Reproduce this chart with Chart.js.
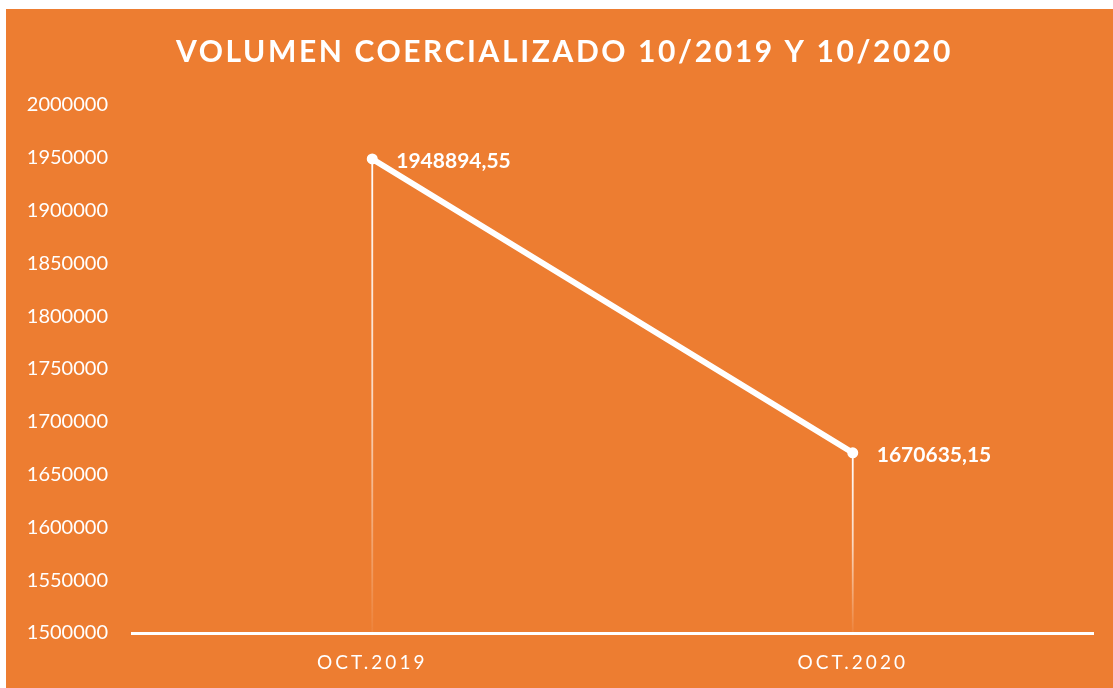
<!DOCTYPE html>
<html>
<head>
<meta charset="utf-8">
<script src="https://cdn.jsdelivr.net/npm/chart.js@4"></script>
<style>
  body { margin: 0; background: #fff; }
  #marco { position: absolute; left: 6px; top: 9px; width: 1107px; height: 679px; background: #ED7D31; }
</style>
</head>
<body>
<div id="marco"><canvas id="grafico"></canvas></div>
<script>
const titulo = 'VOLUMEN COERCIALIZADO 10/2019 Y 10/2020';
const meses = ['OCT.2019', 'OCT.2020'];
const volumen = [1948894.55, 1670635.15];
const ticksY = [1500000, 1550000, 1600000, 1650000, 1700000, 1750000,
  1800000, 1850000, 1900000, 1950000, 2000000];

const fuente = 'Lato, "Open Sans", sans-serif';

// Chart.js no tiene letter-spacing, se envuelve el metodo de dibujo
function conEspaciado(obj, metodo, espacio, dx) {
  if (!obj || obj['_esp_' + metodo]) return;
  const original = obj[metodo];
  obj[metodo] = function (...args) {
    const ctx = this.ctx;
    ctx.save();
    ctx.letterSpacing = espacio;
    ctx.translate(dx || 0, 0);
    original.apply(this, args);
    ctx.restore();
  };
  obj['_esp_' + metodo] = true;
}

const espaciado = {
  id: 'espaciado',
  beforeDraw(chart) {
    // el titulo se centra en todo el recuadro, no solo en el lienzo sin el margen derecho
    conEspaciado(chart.titleBlock, 'draw', '2.6px', 15);
    conEspaciado(chart.scales.x, 'drawLabels', '3px', 0);
  }
};

const lineasCaida = {
  id: 'lineasCaida',
  beforeDatasetsDraw(chart) {
    const ctx = chart.ctx;
    const fondo = chart.chartArea.bottom;
    chart.getDatasetMeta(0).data.forEach(p => {
      const g = ctx.createLinearGradient(0, p.y, 0, fondo);
      g.addColorStop(0, 'rgba(255,255,255,1)');
      g.addColorStop(0.5, 'rgba(255,255,255,0.7)');
      g.addColorStop(1, 'rgba(255,255,255,0.05)');
      ctx.save();
      ctx.strokeStyle = g;
      ctx.lineWidth = 1.8;
      ctx.beginPath();
      ctx.moveTo(p.x, p.y);
      ctx.lineTo(p.x, fondo);
      ctx.stroke();
      ctx.restore();
    });
  }
};

const etiquetasDatos = {
  id: 'etiquetasDatos',
  afterDatasetsDraw(chart) {
    const ctx = chart.ctx;
    ctx.save();
    ctx.fillStyle = '#fff';
    ctx.font = 'bold 21px ' + fuente;
    ctx.textAlign = 'left';
    ctx.textBaseline = 'middle';
    chart.getDatasetMeta(0).data.forEach((p, i) => {
      const texto = volumen[i].toFixed(2).replace('.', ',');
      ctx.fillText(texto, p.x + 24, p.y + 2);
    });
    ctx.restore();
  }
};

const ctx = document.getElementById('grafico').getContext('2d');
new Chart(ctx, {
  type: 'line',
  data: {
    labels: meses,
    datasets: [{
      data: volumen,
      borderColor: '#fff',
      borderWidth: 6,
      borderCapStyle: 'round',
      backgroundColor: '#fff',
      pointRadius: 2.5,
      pointHoverRadius: 2.5,
      fill: false,
      tension: 0
    }]
  },
  options: {
    responsive: true,
    maintainAspectRatio: false,
    animation: false,
    layout: { padding: { left: 0, right: 20, top: 0, bottom: 0 } },
    plugins: {
      legend: { display: false },
      tooltip: { enabled: false },
      title: {
        display: true,
        text: titulo,
        color: '#fff',
        font: { family: fuente, size: 30, weight: 'bold' },
        padding: { top: 25, bottom: 35 }
      }
    },
    scales: {
      x: {
        offset: true,
        grid: { display: false, drawTicks: false },
        border: { display: true, color: '#fff', width: 3 },
        ticks: { color: '#fff', font: { family: fuente, size: 19 }, padding: 18 },
        afterFit: s => { s.height = 55; }
      },
      y: {
        min: 1500000,
        max: 2000000,
        grid: { display: false, drawTicks: false },
        border: { display: false },
        afterBuildTicks: s => { s.ticks = ticksY.map(v => ({ value: v })); },
        ticks: {
          color: '#fff',
          font: { family: fuente, size: 20 },
          padding: 24,
          callback: v => String(v)
        },
        afterFit: s => { s.width = 126; }
      }
    }
  },
  plugins: [espaciado, lineasCaida, etiquetasDatos]
});
</script>
</body>
</html>
